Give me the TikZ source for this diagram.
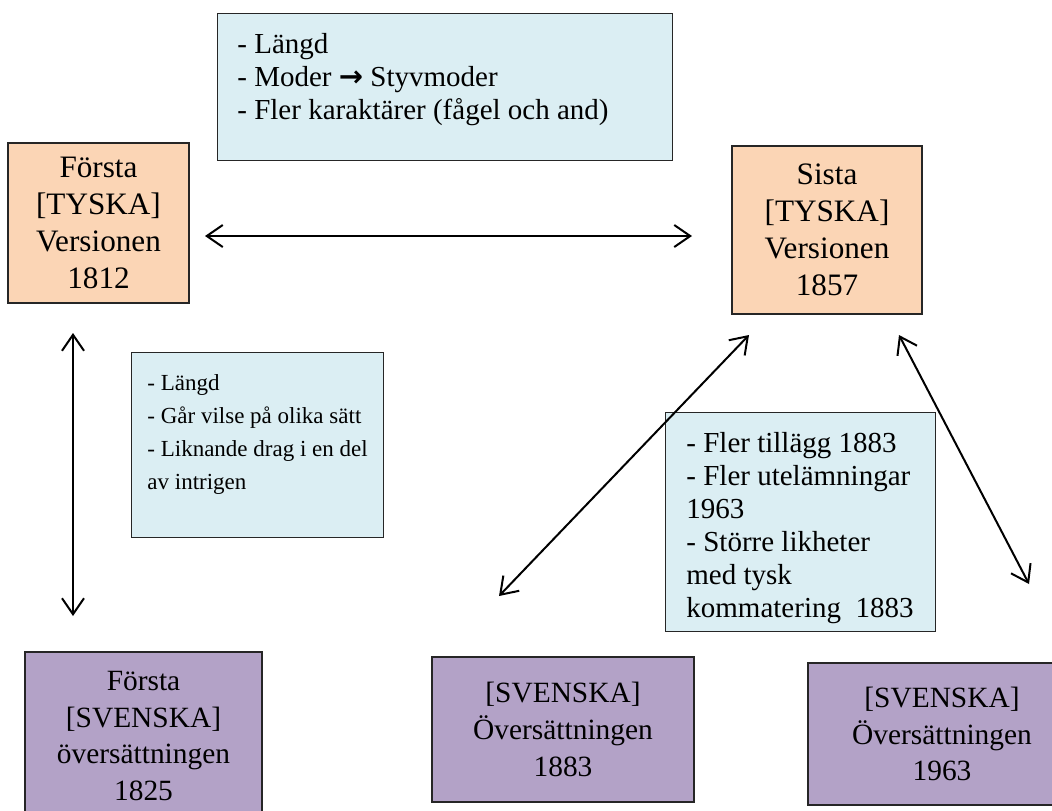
\documentclass[tikz,border=0pt]{standalone}
\usepackage{fontspec}
\setmainfont{Liberation Serif}
\newfontfamily\arrowfont{DejaVu Sans}
\usetikzlibrary{positioning,arrows.meta}
\definecolor{tyskfill}{HTML}{FBD5B5}
\definecolor{svfill}{HTML}{B3A2C7}
\definecolor{notefill}{HTML}{DBEEF3}
\tikzset{
  frame/.style={draw=black!85, line width=0.7pt, inner sep=0pt},
  tyskbox/.style={frame, fill=tyskfill, align=center, font=\fontsize{15.6}{18.5}\selectfont},
  svbox/.style={frame, fill=svfill, align=center, font=\fontsize{14.7}{18.3}\selectfont},
  notebox/.style={frame, fill=notefill, anchor=north west},
  notetext/.style={align=left, inner sep=0pt, font=\fontsize{14.5}{16.5}\selectfont},
  twoway/.style={{Straight Barb[length=8pt,width=11pt]}-{Straight Barb[length=8pt,width=11pt]}, line width=1pt}
}
\begin{document}
\begin{tikzpicture}[x=0.5pt, y=-0.5pt]
\useasboundingbox (0,0) rectangle (1052,810);
% german versions
\node[tyskbox, minimum width=90.5pt, minimum height=80pt] (forstaTysk) at (98.5,223) {Första\\{[TYSKA]}\\Versionen\\1812};
\node[tyskbox, minimum width=95pt, minimum height=84pt] (sistaTysk) at (827,230) {Sista\\{[TYSKA]}\\Versionen\\1857};
% swedish translations
\node[svbox, minimum width=118.5pt, minimum height=84pt] (forstaSv) at (143.5,736) {Första\\{[SVENSKA]}\\översättningen\\1825};
\node[svbox, minimum width=131pt, minimum height=72.5pt] (sv1883) at (563,729.5) {{[SVENSKA]}\\Översättningen\\1883};
\node[svbox, minimum width=134pt, minimum height=71pt] (sv1963) at (942,734) {{[SVENSKA]}\\Översättningen\\1963};
% differences
\node[notebox, minimum width=227.5pt, minimum height=73.5pt] (diffTop) at (217,13) {};
\node[notetext, below right=10pt and 10pt of diffTop.north west] (diffTopText) {- Längd\\- Moder {\arrowfont\bfseries →} Styvmoder\\- Fler karaktärer (fågel och and)};
\node[notebox, minimum width=126pt, minimum height=92.5pt] (diffLeft) at (131,352) {};
\node[notetext, font=\fontsize{11.5}{16.5}\selectfont, below right=11pt and 8pt of diffLeft.north west] (diffLeftText) {- Längd\\- Går vilse på olika sätt\\- Liknande drag i en del\\av intrigen};
\node[notebox, minimum width=135pt, minimum height=109.5pt] (diffRight) at (665,412) {};
\node[notetext, below right=10pt and 10.5pt of diffRight.north west] (diffRightText) {- Fler tillägg 1883\\- Fler utelämningar\\1963\\- Större likheter\\med tysk\\kommatering\ \ 1883};
% arrows
\coordinate (tyskL) at (205,236); \coordinate (tyskR) at (692,236);
\coordinate (forstaT) at (73,333); \coordinate (forstaB) at (73,616);
\coordinate (sistaL) at (749,335); \coordinate (sv1883T) at (499,596);
\coordinate (sistaR) at (899,335); \coordinate (sv1963T) at (1029,584);
\draw[twoway] (tyskL) -- (tyskR);
\draw[twoway] (forstaT) -- (forstaB);
\draw[twoway] (sv1883T) -- (sistaL);
\draw[twoway] (sistaR) -- (sv1963T);
\end{tikzpicture}
\end{document}
